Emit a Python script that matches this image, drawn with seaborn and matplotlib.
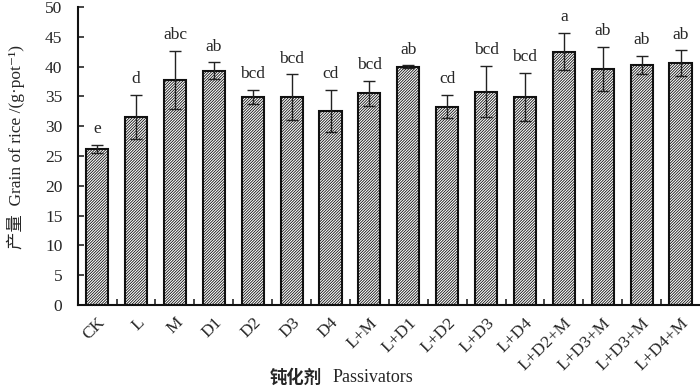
import numpy as np
import pandas as pd
import matplotlib
matplotlib.use("Agg")
import matplotlib.pyplot as plt
import seaborn as sns

# treatments and yield (mean, sd)
treatments = ["CK", "L", "M", "D1", "D2", "D3", "D4", "L+M", "L+D1", "L+D2",
              "L+D3", "L+D4", "L+D2+M", "L+D3+M", "L+D3+M ", "L+D4+M"]
tick_labels = ["CK", "L", "M", "D1", "D2", "D3", "D4", "L+M", "L+D1", "L+D2",
               "L+D3", "L+D4", "L+D2+M", "L+D3+M", "L+D3+M", "L+D4+M"]
yield_mean = [26.2, 31.5, 37.7, 39.3, 34.9, 34.9, 32.6, 35.5, 40.0, 33.3,
              35.8, 34.9, 42.5, 39.6, 40.3, 40.6]
yield_sd = [0.7, 3.7, 4.9, 1.4, 1.2, 3.8, 3.5, 2.1, 0.2, 1.9,
            4.3, 4.0, 3.1, 3.7, 1.5, 2.1]
letters = ["e", "d", "abc", "ab", "bcd", "bcd", "cd", "bcd", "ab", "cd",
           "bcd", "bcd", "a", "ab", "ab", "ab"]

df = pd.DataFrame({"treatment": treatments, "yield": yield_mean})

sns.set_style("ticks")
fonts = ["Liberation Serif", "Noto Sans CJK SC", "DejaVu Sans"]
plt.rcParams["font.family"] = fonts
plt.rcParams["hatch.linewidth"] = 0.6

fig = plt.figure(figsize=(7, 3.88), dpi=100)
ax = fig.add_axes([0.111, 0.214, 0.889, 0.768])

sns.barplot(data=df, x="treatment", y="yield", color="white", edgecolor="#111111",
            linewidth=1.5, width=0.57, errorbar=None, ax=ax)
for bar in ax.patches:
    bar.set_hatch("/" * 12)

x = np.arange(len(treatments))
ax.errorbar(x, yield_mean, yerr=yield_sd, fmt="none", ecolor="#222222",
            elinewidth=1, capsize=4, capthick=1)

for xi, m, s, lab in zip(x, yield_mean, yield_sd, letters):
    ax.text(xi, m + s + 1.3, lab, ha="center", va="bottom", fontsize=12.5)

ax.set_xlim(-0.5, 15.5)
ax.set_ylim(0, 50)
ax.set_yticks(range(0, 51, 5))
ax.tick_params(axis="y", direction="in", length=4, width=1.2, labelsize=12.5, pad=11)
ax.set_xticks(x)
ax.set_xticklabels(tick_labels, rotation=45, ha="right", rotation_mode="anchor", fontsize=12.5)
ax.tick_params(axis="x", which="major", length=0, pad=7)
ax.set_xticks(np.arange(0.5, 15.5, 1), minor=True)
ax.tick_params(axis="x", which="minor", direction="in", length=4, width=1.2)

for side in ["top", "right"]:
    ax.spines[side].set_visible(False)
for side in ["left", "bottom"]:
    ax.spines[side].set_linewidth(1.5)
    ax.spines[side].set_color("#111111")

# x label: bold Chinese part + plain English part
ax.set_xlabel("")
ax.text(0.309, -0.245, "钝化剂", transform=ax.transAxes, ha="left", va="center",
        fontsize=12.5, fontweight="bold", family=["Noto Sans CJK SC"])
ax.text(0.41, -0.245, "Passivators", transform=ax.transAxes, ha="left", va="center",
        fontsize=13)
ax.set_ylabel("产量  Grain of rice /(g·pot⁻¹)", fontsize=12.5)
ax.yaxis.set_label_coords(-0.085, 0.53)

fig.savefig("out.png", dpi=100)
